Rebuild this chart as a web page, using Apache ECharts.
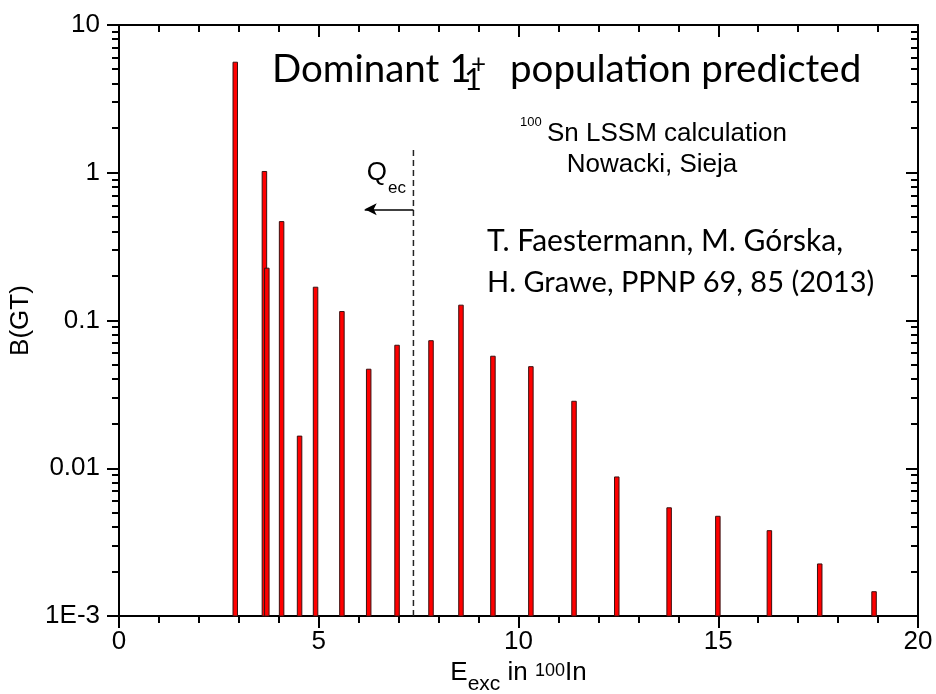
<!DOCTYPE html>
<html>
<head>
<meta charset="utf-8">
<title>B(GT) distribution</title>
<script src="https://cdn.jsdelivr.net/npm/echarts@6/dist/echarts.min.js"></script>
<style>
  html, body { margin: 0; padding: 0; background: #ffffff; }
  #chart { width: 936px; height: 694px; }
</style>
</head>
<body>
<div id="chart"></div>
<script>
// Excitation energies (MeV) of the 1+ states and their Gamow-Teller strengths
const energies = [2.91, 3.64, 3.70, 4.07, 4.52, 4.92, 5.58, 6.25, 6.96, 7.81,
                  8.56, 9.36, 10.31, 11.39, 12.46, 13.77, 14.99, 16.28, 17.54, 18.90];
const strengths = [5.6, 1.02, 0.226, 0.467, 0.0165, 0.168, 0.115, 0.0468, 0.068, 0.073,
                   0.127, 0.0573, 0.0487, 0.0284, 0.00873, 0.0054, 0.00473, 0.00378, 0.00225, 0.00146];

// Axis ranges and tick labels
const xRange = [0, 20];
const yRange = [0.001, 10];
const yTickLabels = ['1E-3', '0.01', '0.1', '1', '10'];

// Q_EC marker: energy, top of the dashed line, arrow start and level
const qecEnergy = [7.37];
const qecTop = [1.47];
const qecArrowFrom = [6.15];
const qecArrowLevel = [0.566];

const SANS = '"Liberation Sans", Arial, sans-serif';
const HUMAN = 'Lato, "Open Sans", sans-serif';

// log-spaced minor ticks (2..9 within each decade)
const minorTickValues = [];
for (let e = -3; e < 1; e++) {
  for (let m = 2; m <= 9; m++) minorTickValues.push(m * Math.pow(10, e));
}

const chart = echarts.init(document.getElementById('chart'), null, { renderer: 'canvas' });

const axisLineStyle = { color: '#000', width: 2 };

function xAxisDef(position, showLabels, inside) {
  return {
    type: 'value', position: position, min: xRange[0], max: xRange[1], interval: 5,
    axisLine: { show: true, onZero: false, lineStyle: axisLineStyle },
    axisTick: { show: true, inside: inside, length: 12, lineStyle: { color: '#000', width: 2 } },
    minorTick: { show: true, splitNumber: 5, length: 7, lineStyle: { color: '#000', width: 2 } },
    splitLine: { show: false }, minorSplitLine: { show: false },
    axisLabel: { show: showLabels, fontFamily: SANS, fontSize: 26, color: '#000', margin: 13 }
  };
}

function yAxisDef(position, showLabels, inside) {
  return {
    type: 'log', logBase: 10, position: position, min: yRange[0], max: yRange[1], splitNumber: 4,
    axisLine: { show: true, onZero: false, lineStyle: axisLineStyle },
    axisTick: { show: true, inside: inside, length: 12, lineStyle: { color: '#000', width: 2 } },
    splitLine: { show: false },
    axisLabel: {
      show: showLabels, fontFamily: SANS, fontSize: 26, color: '#000', margin: 19,
      formatter: function (v) { return yTickLabels[Math.round(Math.log10(v)) + 3]; }
    }
  };
}

const xBottom = xAxisDef('bottom', true, false);
xBottom.name = '{b|E}{s|exc}{b| in }{p|100}{b|In}';
xBottom.nameLocation = 'middle';
xBottom.nameGap = 44;
xBottom.nameTextStyle = {
  fontFamily: SANS, fontSize: 26, color: '#000',
  rich: {
    b: { fontFamily: SANS, fontSize: 26, lineHeight: 30, verticalAlign: 'top', color: '#000' },
    s: { fontFamily: SANS, fontSize: 21, lineHeight: 21, padding: [14, 0, 0, 0], verticalAlign: 'top', color: '#000' },
    p: { fontFamily: SANS, fontSize: 18, lineHeight: 20, padding: [2, 0, 0, 0], verticalAlign: 'top', color: '#000' }
  }
};

const yLeft = yAxisDef('left', true, false);
yLeft.name = 'B(GT)';
yLeft.nameLocation = 'middle';
yLeft.nameRotate = 90;
yLeft.nameGap = 80;
yLeft.nameTextStyle = { fontFamily: SANS, fontSize: 26, color: '#000' };

// Text helper: plain text piece positioned by its left edge and vertical middle
function piece(text, x, y, size, family, align) {
  return {
    type: 'text', x: x, y: y, silent: true,
    style: {
      text: text, fill: '#000', font: size + 'px ' + family,
      align: align || 'left', verticalAlign: 'middle'
    }
  };
}

const option = {
  animation: false,
  backgroundColor: '#ffffff',
  grid: { left: 119, right: 18, top: 25, bottom: 78, containLabel: false, outerBoundsMode: 'none' },
  xAxis: [xBottom, xAxisDef('top', false, true)],
  yAxis: [yLeft, yAxisDef('right', false, true)],
  series: [
    {
      // strength bars drawn from the bottom of the log axis
      type: 'custom', xAxisIndex: 0, yAxisIndex: 0, silent: true,
      data: energies.map(function (e, i) { return [e, strengths[i]]; }),
      encode: { x: 0, y: 1 },
      renderItem: function (params, api) {
        const top = api.coord([api.value(0), api.value(1)]);
        const base = api.coord([api.value(0), yRange[0]]);
        const w = 4.5;
        return {
          type: 'rect',
          shape: { x: top[0] - w / 2, y: top[1], width: w, height: base[1] - top[1] },
          style: { fill: '#ff0000', stroke: '#3b1010', lineWidth: 1 }
        };
      }
    },
    {
      // minor ticks of the log axes (left outward, right inward)
      type: 'custom', xAxisIndex: 0, yAxisIndex: 0, silent: true, clip: false,
      data: minorTickValues.map(function (v) { return [xRange[0], v]; }),
      encode: { x: 0, y: 1 },
      renderItem: function (params, api) {
        const p = api.coord([xRange[0], api.value(1)]);
        const cs = params.coordSys;
        const y = Math.round(p[1]);
        const lineStyle = { stroke: '#000', lineWidth: 2 };
        return {
          type: 'group',
          children: [
            { type: 'line', shape: { x1: cs.x - 7, y1: y, x2: cs.x, y2: y }, style: lineStyle },
            { type: 'line', shape: { x1: cs.x + cs.width - 7, y1: y, x2: cs.x + cs.width, y2: y }, style: lineStyle }
          ]
        };
      }
    },
    {
      // Q_EC limit with arrow
      type: 'line', xAxisIndex: 0, yAxisIndex: 0, silent: true,
      data: [[qecEnergy[0], yRange[0]], [qecEnergy[0], qecTop[0]]],
      symbol: 'none',
      lineStyle: { color: '#222', width: 1.5, type: [6, 4] },
      markLine: {
        silent: true, animation: false,
        symbol: ['arrow', 'none'], symbolSize: [9, 12],
        label: { show: false },
        lineStyle: { color: '#000', width: 1.5, type: 'solid' },
        data: [[{ coord: [qecArrowFrom[0], qecArrowLevel[0]] }, { coord: [qecEnergy[0], qecArrowLevel[0]] }]]
      }
    }
  ],
  graphic: [
    piece('Dominant 1', 272, 70, 38.5, HUMAN),
    piece('1', 464, 80, 31, HUMAN),
    piece('+', 471, 65, 26, HUMAN),
    piece('population predicted', 510, 70, 38.5, HUMAN),

    piece('100', 520, 122.5, 13, SANS),
    piece('Sn LSSM calculation', 547, 133.5, 26, SANS),
    piece('Nowacki, Sieja', 652, 165, 26, SANS, 'center'),

    piece('Q', 366.7, 172.5, 26, SANS),
    piece('ec', 388, 188, 17, SANS),

    piece('T. Faestermann, M. G\u00f3rska,', 487, 241, 30, HUMAN),
    piece('H. Grawe, PPNP 69, 85 (2013)', 487, 283, 29, HUMAN)
  ]
};

chart.setOption(option);
</script>
</body>
</html>
